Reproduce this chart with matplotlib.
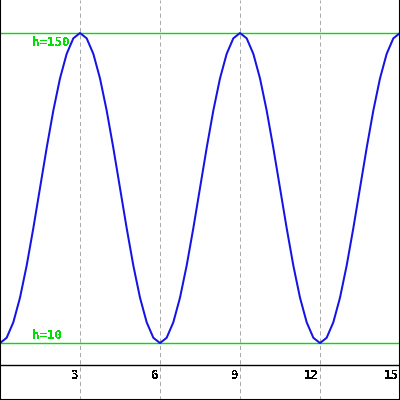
import numpy as np
import matplotlib
matplotlib.use("Agg")
import matplotlib.pyplot as plt

plt.rcParams['text.antialiased'] = False
plt.rcParams['lines.scale_dashes'] = False

# height, one sample every quarter unit from t=0 to t=15
one_rise = [10, 12.4, 19.4, 30.5, 45, 61.9, 80, 98.1, 115, 129.5, 140.6, 147.6, 150]
h = (one_rise + one_rise[-2::-1] + one_rise[1:] + one_rise[-2::-1]
     + one_rise[1:])
t = np.arange(len(h)) * 0.25

tick_vals = [3, 6, 9, 12, 15]
levels = [150, 10]
level_labels = ['h=150', 'h=10']

green = '#00e000'
mono = {'family': 'DejaVu Sans Mono', 'weight': 'bold', 'size': 9}

fig = plt.figure(figsize=(4, 4), dpi=100)
ax = fig.add_axes([0, 0, 1, 1])
ax.set_xlim(0, 15)
ax.set_ylim(-15.7, 164.9)

for x in tick_vals:
    ax.axvline(x, color='#aaaaaa', lw=0.72, dashes=(3, 2.2), snap=True)
    ax.annotate(str(x), xy=(x, 0), xytext=(-1, -3), textcoords='offset points',
                ha='right', va='top', color='black', **mono)

ax.axhline(0, color='black', lw=1.0, snap=True)

for lv in levels:
    ax.axhline(lv, color=green, lw=1.0, snap=True)
ax.annotate(level_labels[0], xy=(1.2, levels[0]), xytext=(0, -2),
            textcoords='offset points', ha='left', va='top', color=green,
            **mono)
ax.annotate(level_labels[1], xy=(1.2, levels[1]), xytext=(0, 1),
            textcoords='offset points', ha='left', va='bottom', color=green,
            **mono)

ax.plot(t, h, color='#1414e6', lw=1.45, clip_on=False)

ax.set_xticks([])
ax.set_yticks([])
ax.spines['top'].set_visible(False)
for s in ['left', 'right', 'bottom']:
    ax.spines[s].set_linewidth(1.5)
    ax.spines[s].set_color('black')

fig.savefig('out.png', dpi=100)
